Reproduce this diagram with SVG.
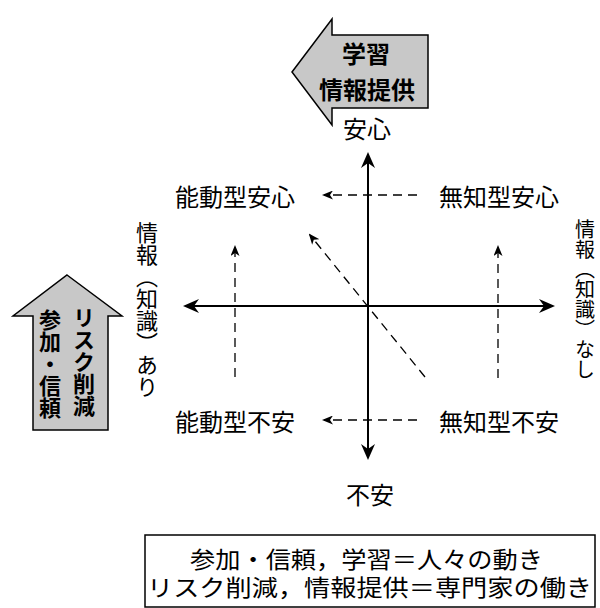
<svg xmlns="http://www.w3.org/2000/svg" width="600" height="608" viewBox="0 0 600 608">
<defs>
<marker id="ah" markerUnits="userSpaceOnUse" viewBox="0 0 16 14" markerWidth="16" markerHeight="14" refX="12" refY="7" orient="auto">
<path d="M0,0 L16,7 L0,14 L5,7 z" fill="#000"/>
</marker>
<marker id="sh" markerUnits="userSpaceOnUse" viewBox="0 0 11 9" markerWidth="11" markerHeight="9" refX="9" refY="4.5" orient="auto">
<path d="M0,0 L11,4.5 L0,9 L3,4.5 z" fill="#000"/>
</marker>
</defs>
<style>
text{font-family:"Noto Sans CJK JP","Noto Sans CJK SC",sans-serif;fill:#000;text-anchor:middle}
.h{dominant-baseline:central}
.lbl{font-size:24px}
.bold{font-size:24px;font-weight:bold}
.v{writing-mode:vertical-rl}
.vb{font-size:22px;font-weight:bold}
.axis{stroke:#000;stroke-width:2;fill:none;marker-end:url(#ah)}
.dash{stroke:#000;stroke-width:1.3;stroke-dasharray:9 6;fill:none;marker-end:url(#sh)}
.block{fill:#c8c8c8;stroke:#000;stroke-width:1.5}
.leg{font-size:23px}
</style>
<rect width="600" height="608" fill="#fff"/>

<g id="connectors">
<line class="axis" x1="368" y1="306" x2="368" y2="156"/>
<line class="axis" x1="368" y1="306" x2="368" y2="456"/>
<line class="axis" x1="368" y1="306" x2="187" y2="306"/>
<line class="axis" x1="368" y1="306" x2="551" y2="306"/>
<line class="dash" x1="417" y1="195" x2="324" y2="195"/>
<line class="dash" x1="417" y1="420" x2="324" y2="420"/>
<line class="dash" x1="235" y1="377" x2="235" y2="247"/>
<line class="dash" x1="498" y1="378" x2="498" y2="247"/>
<line class="dash" x1="425" y1="377" x2="310" y2="235"/>
</g>

<g id="top-arrow">
<path class="block" d="M292,72 L332,19 L332,35 L428,35 L428,108 L332,108 L332,125 z"/>
<text class="bold h" x="366" y="52">学習</text>
<text class="bold h" x="367" y="88">情報提供</text>
</g>

<g id="left-arrow">
<path class="block" d="M67,275 L122,316 L108,316 L108,430 L33,430 L33,316 L13,316 z"/>
<text class="vb v" x="84" y="362">リスク削減</text>
<text class="vb v" x="50" y="364">参加・信頼</text>
</g>

<g id="anshin"><text class="lbl h" x="367" y="127">安心</text></g>
<g id="fuan"><text class="lbl h" x="370" y="493">不安</text></g>
<g id="noudou-anshin"><text class="lbl h" x="235" y="195">能動型安心</text></g>
<g id="muchi-anshin"><text class="lbl h" x="499" y="195">無知型安心</text></g>
<g id="noudou-fuan"><text class="lbl h" x="235" y="420">能動型不安</text></g>
<g id="muchi-fuan"><text class="lbl h" x="499" y="420">無知型不安</text></g>

<g id="left-label">
<text class="v" style="font-size:22px" x="147" y="310">情報（知識）あり</text>
</g>

<g id="right-label">
<text class="v" style="font-size:20px" x="585" y="299">情報（知識）なし</text>
</g>

<g id="legend">
<rect x="145" y="535" width="450" height="72" fill="none" stroke="#000" stroke-width="1.5"/>
<text class="leg h" x="366.5" y="558" textLength="353" lengthAdjust="spacingAndGlyphs">参加・信頼，学習＝人々の動き</text>
<text class="leg h" x="369.5" y="586" textLength="445" lengthAdjust="spacingAndGlyphs">リスク削減，情報提供＝専門家の働き</text>
</g>
</svg>
